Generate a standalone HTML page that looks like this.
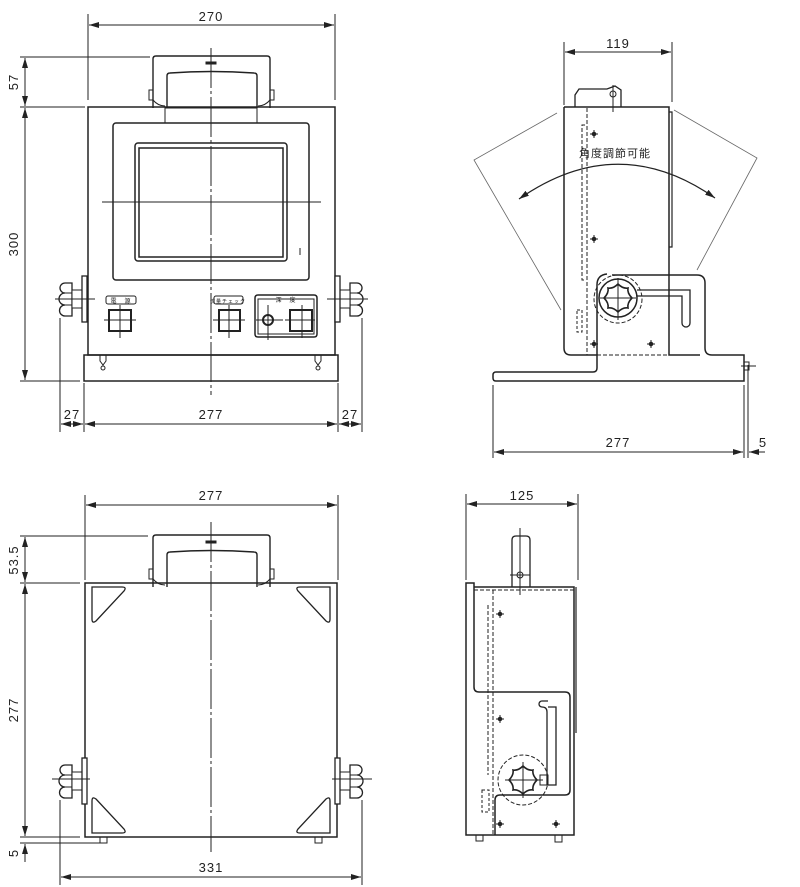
<!DOCTYPE html>
<html><head><meta charset="utf-8"><style>
html,body{margin:0;padding:0;background:#fff}
svg{display:block}
text{font-family:"Liberation Sans","Noto Sans CJK JP",sans-serif;fill:#222;letter-spacing:1px}
</style></head><body>
<svg width="800" height="887" viewBox="0 0 800 887" xmlns="http://www.w3.org/2000/svg">
<defs>
<marker id="a" viewBox="0 0 10 6" refX="10" refY="3" markerWidth="10" markerHeight="6" orient="auto-start-reverse" markerUnits="userSpaceOnUse"><path d="M0,0L10,3L0,6z" fill="#222"/></marker>
<g id="knobL">
<path d="M72,283 h-7 a5,5 0 0 0 0,10 a5,5 0 0 0 0,12 a5,5 0 0 0 0,11 h7 z" fill="#fff" stroke="#222" stroke-width="1.3"/>
<path d="M65,293 h7 M65,305 h7" stroke="#222"/>
<rect x="72" y="290" width="10" height="18" fill="#fff" stroke="#222"/>
<rect x="82" y="276" width="5" height="46" fill="#fff" stroke="#222" stroke-width="1.3"/>
</g>
<g id="star"><path d="M0,-14 Q5,-9 10,-10 Q9,-5 14,0 Q9,5 10,10 Q5,9 0,14 Q-5,9 -10,10 Q-9,5 -14,0 Q-9,-5 -10,-10 Q-5,-9 0,-14z" fill="#fff" stroke="#222" stroke-width="1.6"/></g>
<g id="handle">
<path d="M153,108 V59 q0,-3 3,-3 h111 q3,0 3,3 V108" fill="none" stroke="#222" stroke-width="1.4"/>
<path d="M167,108 V76 q0,-3 3,-3 q41,-3 84,0 q3,0 3,3 V108" fill="none" stroke="#222" stroke-width="1.4"/>
<rect x="149" y="90" width="4" height="10" fill="none" stroke="#222"/>
<rect x="270" y="90" width="4" height="10" fill="none" stroke="#222"/>
<path d="M153,100 q5,6 12,6 M270,100 q-5,6 -12,6" fill="none" stroke="#222"/>
<rect x="206" y="62" width="10" height="2" fill="#222"/>
</g>
</defs>
<g stroke="#222" stroke-width="1" fill="none">
<!-- ===== TOP LEFT VIEW ===== -->
<line x1="88" y1="14" x2="88" y2="100"/><line x1="335" y1="14" x2="335" y2="100"/>
<line x1="89" y1="25" x2="334" y2="25" marker-start="url(#a)" marker-end="url(#a)"/>
<use href="#handle"/>
<line x1="20" y1="57" x2="150" y2="57"/><line x1="20" y1="107" x2="85" y2="107"/><line x1="20" y1="381" x2="80" y2="381"/>
<line x1="25" y1="58" x2="25" y2="106" marker-start="url(#a)" marker-end="url(#a)"/>
<line x1="25" y1="108" x2="25" y2="380" marker-start="url(#a)" marker-end="url(#a)"/>
<rect x="88" y="107" width="247" height="248" stroke-width="1.5"/>
<rect x="165" y="108" width="92" height="15"/>
<rect x="113" y="123" width="196" height="157" rx="3" stroke-width="1.5"/>
<rect x="135" y="143" width="152" height="118" rx="3" stroke-width="1.5"/>
<rect x="139" y="148" width="144" height="109" stroke-width="1.5"/>
<line x1="300" y1="248" x2="300" y2="255"/>
<line x1="211" y1="48" x2="211" y2="395" stroke-dasharray="40,3,3,3"/>
<line x1="102" y1="202" x2="321" y2="202"/>
<rect x="84" y="355" width="254" height="26" stroke-width="1.5"/>
<use href="#knobL"/>
<use href="#knobL" transform="matrix(-1,0,0,1,422,0)"/>
<line x1="55" y1="299" x2="95" y2="299"/><line x1="327" y1="299" x2="368" y2="299"/>
<path d="M100,355 v6 l3,4 l3,-4 v-6 M315,355 v6 l3,4 l3,-4 v-6"/>
<circle cx="103" cy="368" r="2"/><circle cx="318" cy="368" r="2"/>
<rect x="106" y="296" width="30" height="8" rx="2"/>
<rect x="109" y="310" width="22" height="21" stroke-width="2"/>
<line x1="104" y1="320" x2="136" y2="320"/><line x1="120" y1="305" x2="120" y2="338"/>
<rect x="214" y="296" width="29" height="8" rx="2"/>
<rect x="219" y="310" width="21" height="21" stroke-width="2"/>
<line x1="213" y1="320" x2="245" y2="320"/><line x1="229" y1="305" x2="229" y2="338"/>
<path d="M255,300 v34 q0,3 3,3 h56 q3,0 3,-3 v-36 q0,-3 -3,-3 h-56 q-3,0 -3,3z" stroke-width="1.5"/>
<rect x="258" y="299" width="56" height="35"/>
<circle cx="268" cy="320" r="5" stroke-width="2"/>
<line x1="256" y1="320" x2="283" y2="320"/><line x1="268" y1="305" x2="268" y2="340"/>
<rect x="290" y="310" width="22" height="21" stroke-width="2"/>
<line x1="285" y1="320" x2="315" y2="320"/><line x1="302" y1="305" x2="302" y2="338"/>
<line x1="60" y1="318" x2="60" y2="432"/><line x1="84" y1="383" x2="84" y2="432"/><line x1="338" y1="383" x2="338" y2="432"/><line x1="362" y1="318" x2="362" y2="432"/>
<line x1="61" y1="424" x2="83" y2="424" marker-start="url(#a)" marker-end="url(#a)"/>
<line x1="85" y1="424" x2="337" y2="424" marker-start="url(#a)" marker-end="url(#a)"/>
<line x1="339" y1="424" x2="361" y2="424" marker-start="url(#a)" marker-end="url(#a)"/>

<!-- ===== TOP RIGHT VIEW ===== -->
<line x1="564" y1="42" x2="564" y2="105"/><line x1="672" y1="42" x2="672" y2="102"/>
<line x1="565" y1="52" x2="671" y2="52" marker-start="url(#a)" marker-end="url(#a)"/>
<path d="M575,107 v-12 l4,-6 h28 l8,-3 l6,4 v17" stroke-width="1.3"/>
<circle cx="613" cy="94" r="3"/><line x1="613" y1="85" x2="613" y2="112"/>
<path d="M564,107 H669 V355 H700" stroke-width="1.5"/>
<path d="M564,107 V348 q0,7 7,7 H597 V368 q0,4 -4,4 H496 q-3,0 -3,3 v3 q0,3 3,3 H744 V355 H712 q-7,0 -7,-7 V283 q0,-8 -8,-8 H612" stroke-width="1.5"/>
<path d="M597,355 V285 q0,-10 10,-11" stroke-width="1.5"/>
<circle cx="618" cy="298" r="19" stroke-width="1.5"/>
<circle cx="618" cy="299" r="24" stroke-dasharray="4,2"/>
<use href="#star" x="618" y="298"/>
<line x1="600" y1="298" x2="636" y2="298"/><line x1="618" y1="278" x2="618" y2="320"/>
<path d="M637,290 H690 V323 a3,3 0 0 1 -8,0 V296 H637" stroke-width="1.3"/>
<line x1="587" y1="108" x2="587" y2="355" stroke-dasharray="4,2"/>
<line x1="669" y1="275" x2="669" y2="355" stroke-dasharray="4,2"/>
<line x1="597" y1="355" x2="669" y2="355" stroke-dasharray="4,2"/>
<path d="M585,125 h-3 v155 h3" stroke-dasharray="4,2"/>
<rect x="577" y="310" width="5" height="22" stroke-dasharray="3,2"/>
<path d="M669,112 h3 v135 h-3" stroke-width="1.2"/>
<path d="M590,134 h8 M594,130 v8 M590,239 h8 M594,235 v8 M590,344 h8 M594,340 v8 M647,344 h8 M651,340 v8"/>
<circle cx="594" cy="134" r="1.8" fill="#222"/><circle cx="594" cy="239" r="1.8" fill="#222"/><circle cx="594" cy="344" r="1.8" fill="#222"/><circle cx="651" cy="344" r="1.8" fill="#222"/>
<path d="M557,113 L474,160 L561,310" stroke="#666" stroke-width="0.8"/>
<path d="M674,110 L757,158 L697,270" stroke="#666" stroke-width="0.8"/>
<path d="M519,199 Q618,130 715,198" stroke-width="1.2" marker-start="url(#a)" marker-end="url(#a)"/>
<line x1="493" y1="385" x2="493" y2="458"/><line x1="744" y1="385" x2="744" y2="458"/><line x1="748" y1="365" x2="748" y2="458"/>
<rect x="744" y="362" width="5" height="8"/><line x1="741" y1="366" x2="756" y2="366"/>
<line x1="494" y1="452" x2="743" y2="452" marker-start="url(#a)" marker-end="url(#a)"/>
<line x1="765" y1="452" x2="749" y2="452" marker-end="url(#a)"/>

<!-- ===== BOTTOM LEFT VIEW ===== -->
<line x1="85" y1="495" x2="85" y2="580"/><line x1="338" y1="495" x2="338" y2="580"/>
<line x1="86" y1="505" x2="337" y2="505" marker-start="url(#a)" marker-end="url(#a)"/>
<use href="#handle" transform="translate(0,479)"/>
<line x1="20" y1="536" x2="148" y2="536"/><line x1="20" y1="583" x2="80" y2="583"/><line x1="20" y1="837" x2="80" y2="837"/><line x1="20" y1="843" x2="100" y2="843"/>
<line x1="25" y1="537" x2="25" y2="582" marker-start="url(#a)" marker-end="url(#a)"/>
<line x1="25" y1="584" x2="25" y2="836" marker-start="url(#a)" marker-end="url(#a)"/>
<line x1="25" y1="855" x2="25" y2="844" marker-end="url(#a)"/>
<line x1="25" y1="844" x2="25" y2="862"/>
<rect x="85" y="583" width="252" height="254" stroke-width="1.5"/>
<path d="M92,587 h30 q5,0 2,4 l-28,30 q-4,3 -4,-2 v-29 q0,-3 0,-3z M330,587 h-30 q-5,0 -2,4 l28,30 q4,3 4,-2 v-29 q0,-3 0,-3z M92,833 h30 q5,0 2,-4 l-28,-30 q-4,-3 -4,2 v29 q0,3 0,3z M330,833 h-30 q-5,0 -2,-4 l28,-30 q4,-3 4,2 v29 q0,3 0,3z" stroke-width="1.3"/>
<line x1="211" y1="522" x2="211" y2="852" stroke-dasharray="40,3,3,3"/>
<use href="#knobL" transform="translate(0,482)"/>
<use href="#knobL" transform="matrix(-1,0,0,1,422,482)"/>
<line x1="52" y1="779" x2="90" y2="779"/><line x1="332" y1="779" x2="372" y2="779"/>
<rect x="100" y="837" width="7" height="6"/><rect x="315" y="837" width="7" height="6"/>
<line x1="60" y1="800" x2="60" y2="885"/><line x1="362" y1="800" x2="362" y2="885"/>
<line x1="61" y1="877" x2="361" y2="877" marker-start="url(#a)" marker-end="url(#a)"/>

<!-- ===== BOTTOM RIGHT VIEW ===== -->
<line x1="466" y1="494" x2="466" y2="580"/><line x1="578" y1="494" x2="578" y2="580"/>
<line x1="467" y1="504" x2="577" y2="504" marker-start="url(#a)" marker-end="url(#a)"/>
<path d="M512,587 V540 q0,-4 4,-4 h10 q4,0 4,4 V587" stroke-width="1.3"/>
<path d="M512,545 v12 M530,545 v12"/>
<circle cx="520" cy="575" r="3"/><line x1="520" y1="528" x2="520" y2="595"/><line x1="510" y1="575" x2="530" y2="575"/>
<path d="M474,587 H574 V835 H466 V583 H474 V687 q0,5 5,5 H565 q5,0 5,5 V790 q0,5 -5,5 H500 q-5,0 -5,5 V835" stroke-width="1.5"/>
<path d="M576,587 v146" stroke-width="1.2"/>
<path d="M548,707 h8 V785 H547 V712 q0,-5 -5,-5 a3,3 0 0 1 0,-6 h6" stroke-width="1.3"/>
<circle cx="523" cy="780" r="25" stroke-dasharray="4,2"/>
<use href="#star" x="523" y="780"/>
<rect x="540" y="775" width="8" height="10"/>
<line x1="505" y1="780" x2="543" y2="780"/><line x1="523" y1="762" x2="523" y2="798"/>
<line x1="474" y1="590" x2="574" y2="590" stroke-dasharray="4,2"/>
<line x1="493" y1="590" x2="493" y2="835" stroke-dasharray="4,2"/>
<path d="M488,605 v170" stroke-dasharray="4,2"/>
<rect x="482" y="790" width="7" height="22" stroke-dasharray="3,2"/>
<path d="M496,614 h8 M500,610 v8 M496,719 h8 M500,715 v8 M496,824 h8 M500,820 v8 M552,824 h8 M556,820 v8"/>
<circle cx="500" cy="614" r="1.8" fill="#222"/><circle cx="500" cy="719" r="1.8" fill="#222"/><circle cx="500" cy="824" r="1.8" fill="#222"/><circle cx="556" cy="824" r="1.8" fill="#222"/>
<rect x="476" y="835" width="7" height="6"/><rect x="555" y="835" width="7" height="7"/>
</g>
<!-- text -->
<text x="211" y="21" font-size="13" text-anchor="middle">270</text>
<text x="18" y="82" font-size="13" text-anchor="middle" transform="rotate(-90 18 82)">57</text>
<text x="18" y="244" font-size="13" text-anchor="middle" transform="rotate(-90 18 244)">300</text>
<text x="72" y="419" font-size="13" text-anchor="middle">27</text>
<text x="211" y="419" font-size="13" text-anchor="middle">277</text>
<text x="350" y="419" font-size="13" text-anchor="middle">27</text>
<text x="121" y="303" font-size="6" text-anchor="middle">電　源</text>
<text x="228" y="303" font-size="5" text-anchor="middle">流量チェック</text>
<text x="286" y="302" font-size="6" text-anchor="middle">深　度</text>
<text x="618" y="48" font-size="13" text-anchor="middle">119</text>
<text x="615" y="157" font-size="11" text-anchor="middle">角度調節可能</text>
<text x="618" y="447" font-size="13" text-anchor="middle">277</text>
<text x="763" y="447" font-size="13" text-anchor="middle">5</text>
<text x="211" y="500" font-size="13" text-anchor="middle">277</text>
<text x="18" y="560" font-size="13" text-anchor="middle" transform="rotate(-90 18 560)">53.5</text>
<text x="18" y="710" font-size="13" text-anchor="middle" transform="rotate(-90 18 710)">277</text>
<text x="18" y="853" font-size="13" text-anchor="middle" transform="rotate(-90 18 853)">5</text>
<text x="211" y="872" font-size="13" text-anchor="middle">331</text>
<text x="522" y="500" font-size="13" text-anchor="middle">125</text>
</svg>
</body></html>
